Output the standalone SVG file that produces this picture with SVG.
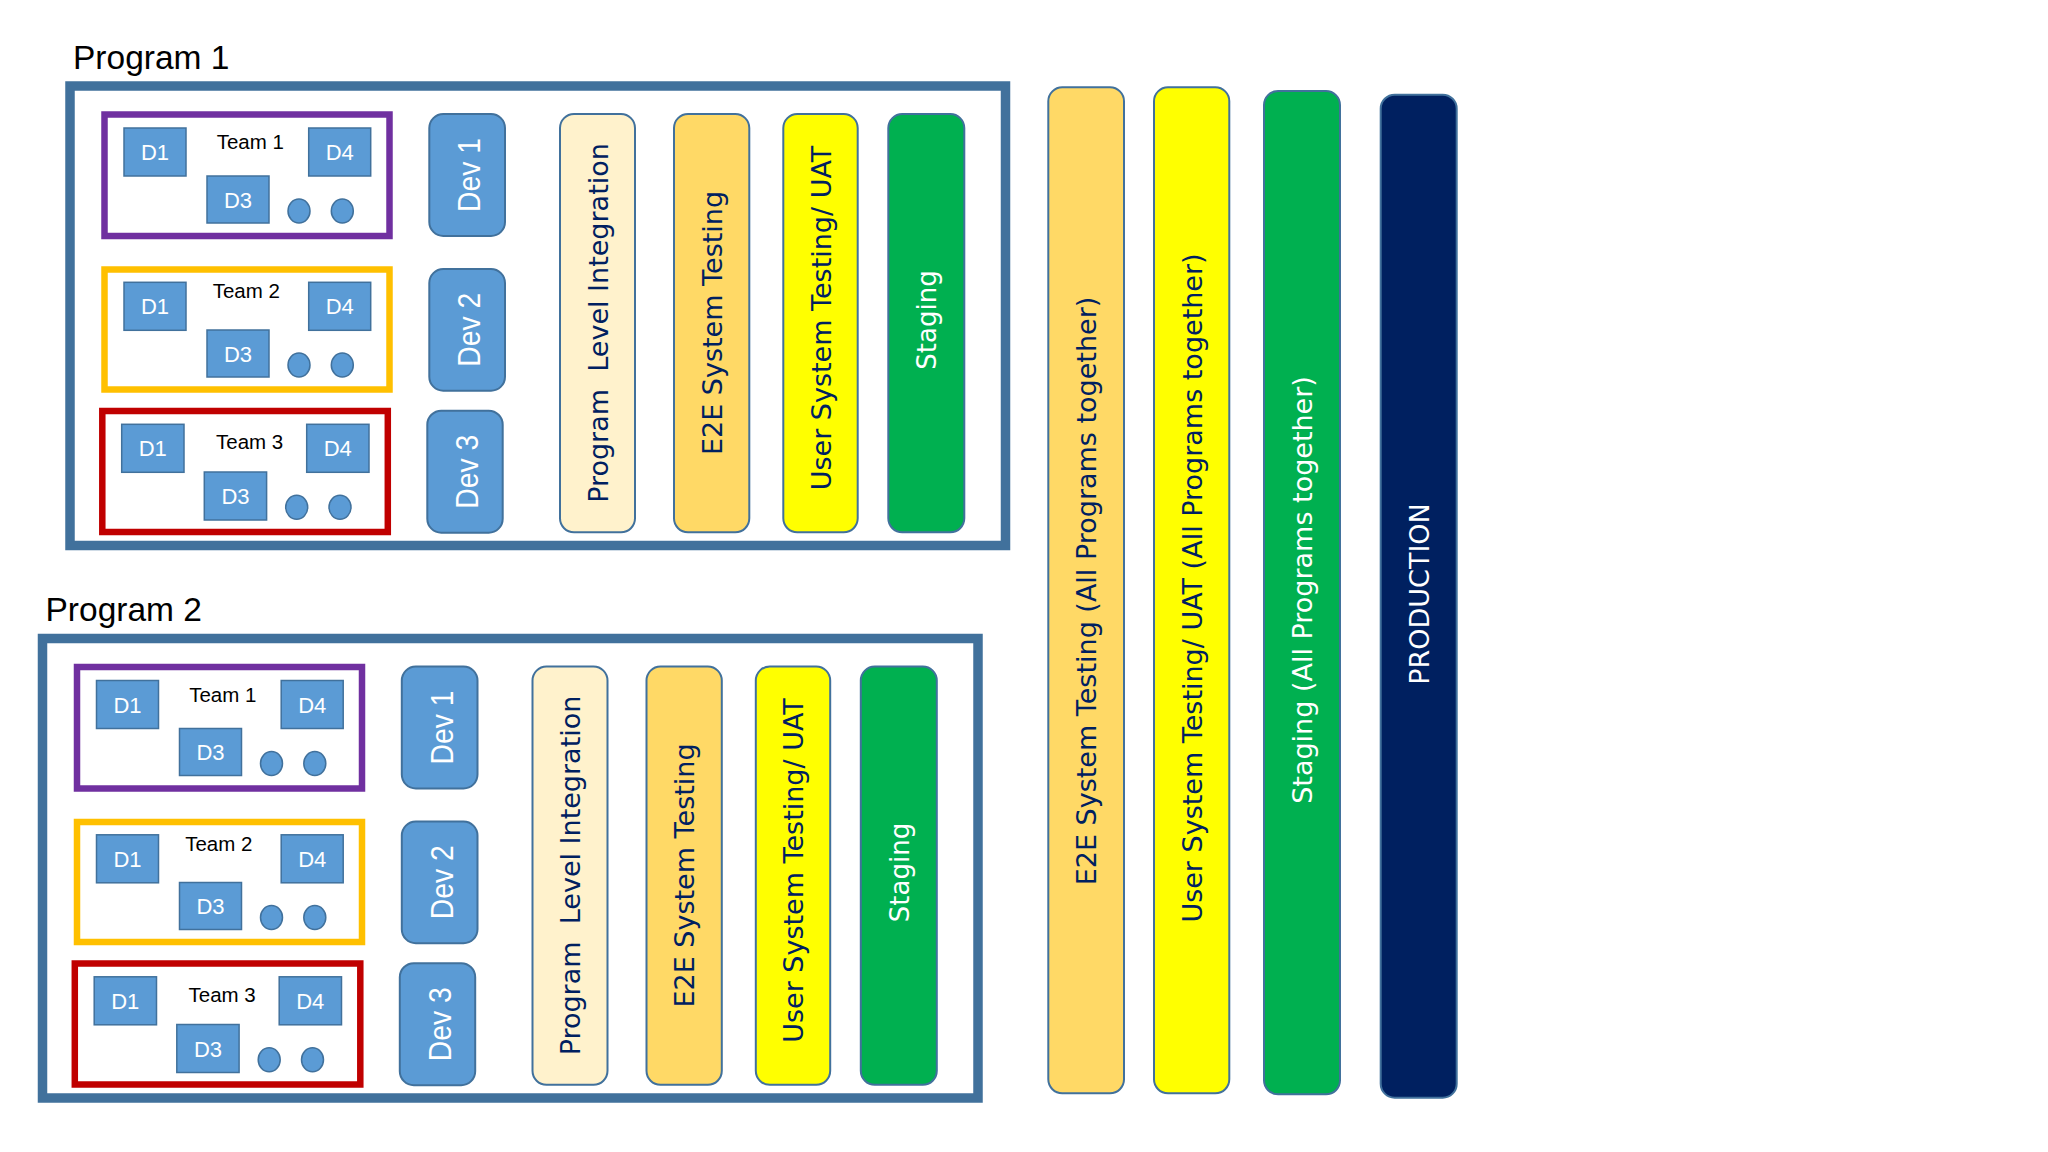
<svg xmlns="http://www.w3.org/2000/svg" width="2048" height="1152" viewBox="0 0 2048 1152">
<style>
.bg{fill:#fff}
.prog{fill:#fff;stroke:#41719C;stroke-width:9.5}
.team{fill:#fff;stroke-width:6.5}
.t1{stroke:#7030A0}.t2{stroke:#FFC000}.t3{stroke:#C00000}
.d{fill:#5B9BD5;stroke:#41719C;stroke-width:1.5}
.dl{font-family:"Liberation Sans",Arial,sans-serif;font-size:22px;fill:#fff;text-anchor:middle}
.tl{font-family:"Liberation Sans",Arial,sans-serif;font-size:20.5px;fill:#000}
.dev{fill:#5B9BD5;stroke:#41719C;stroke-width:2}
.devl{font-family:"Liberation Sans",Arial,sans-serif;font-size:32px;fill:#fff;text-anchor:middle}
.col{stroke:#41719C;stroke-width:2}
.cl{font-family:"DejaVu Sans",Verdana,sans-serif;font-size:27px;fill:#002060;text-anchor:middle;white-space:pre}
.wl{fill:#fff}
.title{font-family:"Liberation Sans",Arial,sans-serif;font-size:33.5px;fill:#000}
.c1{fill:#FFF2CC}.c2{fill:#FFD966}.c3{fill:#FFFF00}.c4{fill:#00B050}.c5{fill:#002060}
</style>
<rect class="bg" x="0" y="0" width="2048" height="1152"/>

<g id="program1">
  <text class="title" x="73" y="68.5">Program 1</text>
  <rect class="prog" x="70" y="86" width="935.5" height="459.5"/>
  <g id="p1-team1">
    <rect class="team t1" x="104.5" y="114.5" width="285" height="121.5"/>
    <text class="tl" x="216.7" y="149">Team 1</text>
    <rect class="d" x="124" y="128" width="62" height="48"/><text class="dl" x="155" y="160">D1</text>
    <rect class="d" x="308.7" y="128" width="62" height="48"/><text class="dl" x="339.7" y="160">D4</text>
    <rect class="d" x="207" y="176" width="62" height="47"/><text class="dl" x="238" y="207.5">D3</text>
    <ellipse class="d" cx="299" cy="211" rx="11" ry="12"/>
    <ellipse class="d" cx="342.3" cy="211" rx="11" ry="12"/>
  </g>
  <g id="p1-team2">
    <rect class="team t2" x="104.5" y="269.5" width="285" height="120"/>
    <text class="tl" x="212.7" y="298.3">Team 2</text>
    <rect class="d" x="124" y="282.3" width="62" height="48"/><text class="dl" x="155" y="314.3">D1</text>
    <rect class="d" x="308.7" y="282.3" width="62" height="48"/><text class="dl" x="339.7" y="314.3">D4</text>
    <rect class="d" x="207" y="330" width="62" height="47"/><text class="dl" x="238" y="361.5">D3</text>
    <ellipse class="d" cx="299" cy="365" rx="11" ry="12"/>
    <ellipse class="d" cx="342.3" cy="365" rx="11" ry="12"/>
  </g>
  <g id="p1-team3">
    <rect class="team t3" x="102.3" y="411" width="285.5" height="121"/>
    <text class="tl" x="216" y="449">Team 3</text>
    <rect class="d" x="121.7" y="424.3" width="62.3" height="48"/><text class="dl" x="152.8" y="456.3">D1</text>
    <rect class="d" x="306.7" y="424.3" width="62.3" height="48"/><text class="dl" x="337.8" y="456.3">D4</text>
    <rect class="d" x="204.3" y="472" width="62.3" height="48"/><text class="dl" x="235.5" y="504">D3</text>
    <ellipse class="d" cx="296.7" cy="507.3" rx="11" ry="12"/>
    <ellipse class="d" cx="340" cy="507.3" rx="11" ry="12"/>
  </g>
  <g id="p1-dev1"><rect class="dev" x="429.3" y="114" width="75.7" height="122" rx="14"/><text class="devl" transform="translate(480,175) rotate(-90)" textLength="74" lengthAdjust="spacingAndGlyphs">Dev 1</text></g>
  <g id="p1-dev2"><rect class="dev" x="429.3" y="269" width="75.7" height="121.7" rx="14"/><text class="devl" transform="translate(480,329.8) rotate(-90)" textLength="74" lengthAdjust="spacingAndGlyphs">Dev 2</text></g>
  <g id="p1-dev3"><rect class="dev" x="427.3" y="410.7" width="75.4" height="122" rx="14"/><text class="devl" transform="translate(478,471.7) rotate(-90)" textLength="74" lengthAdjust="spacingAndGlyphs">Dev 3</text></g>
  <g id="p1-pli"><rect class="col c1" x="560" y="114" width="75" height="418.3" rx="14"/><text class="cl" xml:space="preserve" transform="translate(607.5,323) rotate(-90)">Program  Level Integration</text></g>
  <g id="p1-e2e"><rect class="col c2" x="674" y="114" width="75.3" height="418.3" rx="14"/><text class="cl" transform="translate(721.5,323) rotate(-90)">E2E System Testing</text></g>
  <g id="p1-uat"><rect class="col c3" x="783.3" y="114" width="74.4" height="418.3" rx="14"/><text class="cl" transform="translate(830.5,318) rotate(-90)">User System Testing/ UAT</text></g>
  <g id="p1-staging"><rect class="col c4" x="888.3" y="114" width="76" height="418.3" rx="14"/><text class="cl wl" style="font-size:26px" transform="translate(936,320) rotate(-90)">Staging</text></g>
</g>

<g id="program2" transform="translate(-27.5,552.5)">
  <text class="title" x="73" y="68.5">Program 2</text>
  <rect class="prog" x="70" y="86" width="935.5" height="459.5"/>
  <g id="p2-team1">
    <rect class="team t1" x="104.5" y="114.5" width="285" height="121.5"/>
    <text class="tl" x="216.7" y="149">Team 1</text>
    <rect class="d" x="124" y="128" width="62" height="48"/><text class="dl" x="155" y="160">D1</text>
    <rect class="d" x="308.7" y="128" width="62" height="48"/><text class="dl" x="339.7" y="160">D4</text>
    <rect class="d" x="207" y="176" width="62" height="47"/><text class="dl" x="238" y="207.5">D3</text>
    <ellipse class="d" cx="299" cy="211" rx="11" ry="12"/>
    <ellipse class="d" cx="342.3" cy="211" rx="11" ry="12"/>
  </g>
  <g id="p2-team2">
    <rect class="team t2" x="104.5" y="269.5" width="285" height="120"/>
    <text class="tl" x="212.7" y="298.3">Team 2</text>
    <rect class="d" x="124" y="282.3" width="62" height="48"/><text class="dl" x="155" y="314.3">D1</text>
    <rect class="d" x="308.7" y="282.3" width="62" height="48"/><text class="dl" x="339.7" y="314.3">D4</text>
    <rect class="d" x="207" y="330" width="62" height="47"/><text class="dl" x="238" y="361.5">D3</text>
    <ellipse class="d" cx="299" cy="365" rx="11" ry="12"/>
    <ellipse class="d" cx="342.3" cy="365" rx="11" ry="12"/>
  </g>
  <g id="p2-team3">
    <rect class="team t3" x="102.3" y="411" width="285.5" height="121"/>
    <text class="tl" x="216" y="449">Team 3</text>
    <rect class="d" x="121.7" y="424.3" width="62.3" height="48"/><text class="dl" x="152.8" y="456.3">D1</text>
    <rect class="d" x="306.7" y="424.3" width="62.3" height="48"/><text class="dl" x="337.8" y="456.3">D4</text>
    <rect class="d" x="204.3" y="472" width="62.3" height="48"/><text class="dl" x="235.5" y="504">D3</text>
    <ellipse class="d" cx="296.7" cy="507.3" rx="11" ry="12"/>
    <ellipse class="d" cx="340" cy="507.3" rx="11" ry="12"/>
  </g>
  <g id="p2-dev1"><rect class="dev" x="429.3" y="114" width="75.7" height="122" rx="14"/><text class="devl" transform="translate(480,175) rotate(-90)" textLength="74" lengthAdjust="spacingAndGlyphs">Dev 1</text></g>
  <g id="p2-dev2"><rect class="dev" x="429.3" y="269" width="75.7" height="121.7" rx="14"/><text class="devl" transform="translate(480,329.8) rotate(-90)" textLength="74" lengthAdjust="spacingAndGlyphs">Dev 2</text></g>
  <g id="p2-dev3"><rect class="dev" x="427.3" y="410.7" width="75.4" height="122" rx="14"/><text class="devl" transform="translate(478,471.7) rotate(-90)" textLength="74" lengthAdjust="spacingAndGlyphs">Dev 3</text></g>
  <g id="p2-pli"><rect class="col c1" x="560" y="114" width="75" height="418.3" rx="14"/><text class="cl" xml:space="preserve" transform="translate(607.5,323) rotate(-90)">Program  Level Integration</text></g>
  <g id="p2-e2e"><rect class="col c2" x="674" y="114" width="75.3" height="418.3" rx="14"/><text class="cl" transform="translate(721.5,323) rotate(-90)">E2E System Testing</text></g>
  <g id="p2-uat"><rect class="col c3" x="783.3" y="114" width="74.4" height="418.3" rx="14"/><text class="cl" transform="translate(830.5,318) rotate(-90)">User System Testing/ UAT</text></g>
  <g id="p2-staging"><rect class="col c4" x="888.3" y="114" width="76" height="418.3" rx="14"/><text class="cl wl" style="font-size:26px" transform="translate(936,320) rotate(-90)">Staging</text></g>
</g>

<g id="e2e-all"><rect class="col c2" x="1048.3" y="87.3" width="75.7" height="1006" rx="14"/><text class="cl" transform="translate(1096,591) rotate(-90)">E2E System Testing (All Programs together)</text></g>
<g id="uat-all"><rect class="col c3" x="1154" y="87.3" width="75.3" height="1006" rx="14"/><text class="cl" transform="translate(1201.5,588) rotate(-90)">User System Testing/ UAT (All Programs together)</text></g>
<g id="staging-all"><rect class="col c4" x="1264" y="91" width="76" height="1003.3" rx="14"/><text class="cl wl" transform="translate(1312,590) rotate(-90)">Staging (All Programs together)</text></g>
<g id="production"><rect class="col c5" x="1380.7" y="94.7" width="76" height="1003" rx="14"/><text class="cl wl" transform="translate(1428.5,594) rotate(-90)">PRODUCTION</text></g>

<g id="connectors"/>
</svg>
